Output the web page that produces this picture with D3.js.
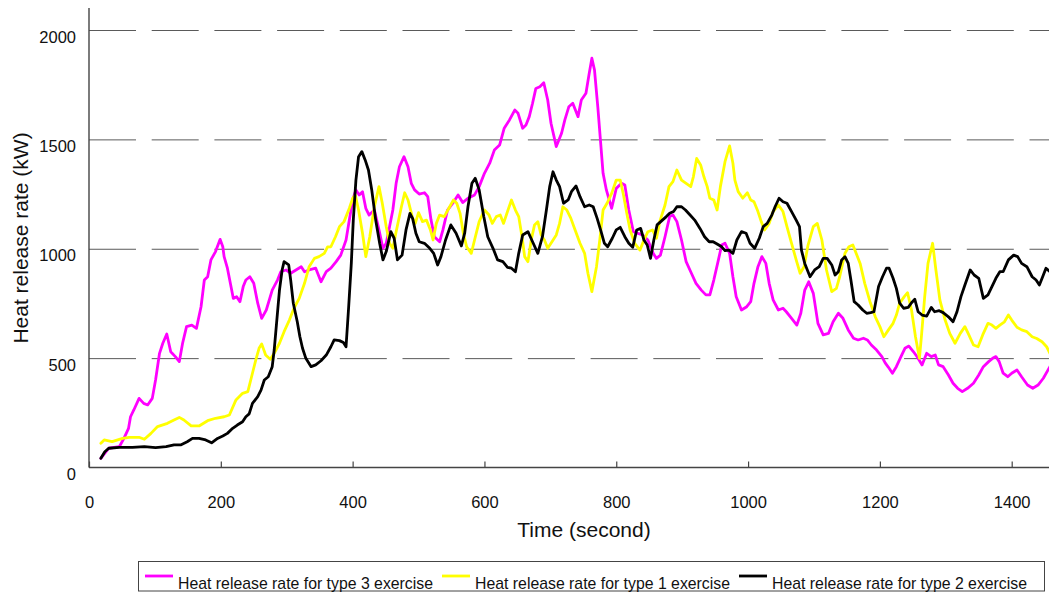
<!DOCTYPE html>
<html>
<head>
<meta charset="utf-8">
<script src="https://cdn.jsdelivr.net/npm/d3@7"></script>
<style>
  html, body { margin: 0; padding: 0; background: #fff; }
  svg { display: block; }
  text { font-family: "Liberation Sans", Arial, sans-serif; fill: #111; }
</style>
</head>
<body>
<svg id="chart" width="1049" height="592"></svg>
<script>
// Heat release rate (kW) against time (s) for three exercise types, as [time, hrr] pairs.
const type3 = [
  [18,42],[30,88],[46,95],[53,133],[60,179],[63,232],[68,263],[76,316],[83,293],[89,286],[96,316],
  [101,400],[107,522],[112,568],[118,610],[124,529],[131,507],[137,484],[142,568],[148,644],[156,651],
  [163,636],[170,735],[175,857],[180,872],[185,949],[192,987],[199,1043],[203,1009],[205,964],[210,911],
  [215,834],[219,773],[224,781],[229,758],[234,827],[238,857],[244,872],[250,842],[256,751],[262,682],
  [269,720],[278,811],[286,857],[291,895],[299,903],[306,888],[314,903],[322,918],[327,895],[334,903],
  [344,911],[352,849],[360,895],[367,911],[375,941],[382,971],[390,1040],[395,1131],[400,1223],[405,1269],
  [410,1246],[415,1261],[420,1185],[425,1154],[433,1177],[440,1086],[446,1002],[451,1025],[456,1101],
  [461,1177],[466,1299],[471,1375],[478,1421],[484,1375],[489,1299],[494,1269],[501,1250],[509,1256],
  [514,1238],[519,1131],[524,1055],[532,1032],[537,1086],[544,1177],[552,1208],[560,1246],[567,1211],
  [575,1231],[585,1246],[592,1284],[600,1345],[608,1391],[615,1451],[623,1474],[630,1551],[638,1589],
  [646,1634],[651,1619],[658,1551],[663,1566],[668,1604],[673,1665],[678,1733],[684,1741],[690,1759],
  [696,1680],[701,1574],[709,1467],[717,1528],[722,1589],[728,1649],[734,1665],[742,1604],[747,1680],
  [754,1711],[759,1802],[763,1871],[767,1817],[772,1649],[776,1497],[780,1345],[785,1269],[793,1185],
  [800,1276],[808,1299],[813,1291],[819,1177],[826,1078],[833,1070],[840,1063],[848,1040],[856,979],
  [861,956],[867,971],[874,1055],[881,1147],[886,1154],[892,1124],[899,1040],[906,941],[914,888],
  [921,842],[929,811],[936,789],[942,789],[948,857],[955,949],[960,1017],[965,1025],[972,979],[977,872],
  [982,781],[990,720],[998,735],[1004,758],[1009,842],[1015,918],[1021,964],[1027,933],[1032,842],
  [1038,766],[1046,720],[1053,728],[1058,712],[1066,682],[1074,651],[1080,705],[1086,811],[1092,849],
  [1099,796],[1106,659],[1114,606],[1122,613],[1129,666],[1137,705],[1144,682],[1152,629],[1160,591],
  [1167,583],[1175,591],[1181,583],[1187,560],[1195,537],[1203,507],[1208,478],[1213,458],[1219,431],
  [1225,461],[1232,507],[1238,545],[1244,555],[1251,529],[1257,504],[1264,469],[1271,522],[1278,507],
  [1284,514],[1289,469],[1296,461],[1304,423],[1311,385],[1318,362],[1325,347],[1333,362],[1342,385],
  [1350,423],[1357,461],[1365,484],[1371,499],[1376,507],[1381,484],[1387,431],[1394,415],[1400,431],
  [1408,446],[1415,415],[1424,377],[1432,362],[1440,377],[1448,408],[1458,461]
];

const type1 = [
  [18,111],[23,126],[35,118],[51,133],[61,138],[76,138],[84,129],[94,156],[104,187],[119,202],[129,217],
  [137,229],[144,217],[155,190],[167,190],[180,214],[192,225],[205,232],[213,240],[223,309],[233,339],
  [241,347],[248,431],[253,491],[258,545],[262,565],[268,514],[275,495],[281,522],[289,568],[296,621],
  [304,674],[311,728],[319,773],[327,842],[334,918],[342,956],[349,964],[357,979],[362,1009],[367,1009],
  [374,1055],[380,1101],[387,1124],[395,1185],[400,1230],[404,1246],[409,1177],[415,1071],[420,964],
  [426,1055],[433,1192],[440,1284],[445,1208],[451,1101],[456,1025],[461,1002],[466,1078],[474,1192],
  [479,1256],[484,1223],[491,1140],[495,1116],[500,1165],[506,1124],[512,1131],[518,1086],[522,1040],
  [527,1116],[532,1154],[539,1147],[546,1185],[553,1223],[558,1208],[563,1162],[568,1071],[573,1009],
  [580,979],[585,1040],[592,1124],[600,1177],[607,1154],[612,1116],[618,1147],[624,1154],[629,1116],
  [635,1170],[641,1223],[647,1177],[652,1147],[657,1055],[661,964],[666,941],[671,1040],[676,1109],
  [681,1124],[686,1063],[691,1040],[696,1002],[701,1025],[709,1063],[714,1116],[719,1192],[725,1177],
  [731,1140],[737,1090],[745,1025],[752,979],[757,888],[763,804],[770,918],[775,1040],[780,1177],
  [786,1208],[793,1253],[800,1314],[806,1314],[811,1246],[816,1162],[821,1086],[828,1025],[836,994],
  [842,1040],[848,1078],[855,1086],[861,1048],[866,1124],[874,1200],[880,1284],[886,1307],[892,1360],
  [899,1314],[906,1299],[913,1284],[917,1329],[922,1413],[928,1383],[933,1329],[938,1284],[942,1231],
  [948,1223],[953,1177],[958,1284],[965,1398],[972,1470],[977,1391],[980,1314],[985,1261],[992,1231],
  [999,1256],[1004,1223],[1009,1215],[1015,1170],[1020,1124],[1025,1086],[1032,1116],[1038,1170],
  [1046,1200],[1053,1170],[1059,1101],[1066,1025],[1073,949],[1079,888],[1085,918],[1091,1017],
  [1099,1101],[1105,1116],[1112,1040],[1119,903],[1127,804],[1134,819],[1139,872],[1147,979],[1153,1009],
  [1159,1017],[1165,971],[1170,933],[1177,842],[1185,758],[1193,689],[1200,644],[1206,598],[1213,629],
  [1220,659],[1225,697],[1230,751],[1237,781],[1242,799],[1248,720],[1254,598],[1260,499],[1263,598],
  [1268,781],[1273,933],[1280,1025],[1285,903],[1291,766],[1299,674],[1306,613],[1314,568],[1322,613],
  [1329,644],[1335,606],[1342,560],[1349,552],[1356,606],[1364,659],[1370,651],[1376,636],[1382,651],
  [1389,666],[1395,697],[1400,674],[1408,641],[1415,629],[1423,621],[1431,598],[1438,590],[1446,575],
  [1453,552],[1458,522]
];

const type2 = [
  [18,42],[24,72],[30,88],[46,92],[66,92],[84,95],[101,91],[117,95],[129,103],[139,103],[149,118],
  [157,133],[167,133],[177,126],[186,113],[195,133],[203,144],[210,156],[218,179],[225,194],[233,209],
  [238,232],[243,245],[248,293],[256,324],[261,354],[266,400],[272,415],[278,461],[281,537],[285,674],
  [289,811],[293,903],[296,941],[303,926],[306,857],[310,751],[316,666],[320,598],[324,545],[329,499],
  [337,461],[344,469],[352,488],[360,514],[367,552],[372,583],[380,580],[386,571],[390,552],[394,735],
  [398,933],[401,1131],[405,1314],[409,1421],[414,1444],[419,1406],[424,1360],[429,1269],[435,1131],
  [441,1025],[446,949],[451,987],[458,1078],[463,1048],[468,949],[475,971],[481,1086],[487,1162],
  [491,1139],[496,1071],[501,1032],[509,1025],[517,1002],[523,979],[529,926],[534,964],[541,1040],
  [549,1109],[557,1071],[565,1013],[570,1071],[575,1192],[581,1299],[586,1322],[592,1269],[599,1147],
  [605,1055],[613,1002],[620,949],[628,941],[635,915],[641,911],[647,895],[652,979],[658,1063],
  [666,1078],[673,1032],[681,979],[688,1055],[694,1177],[699,1284],[704,1352],[709,1314],[714,1284],
  [720,1208],[727,1223],[732,1261],[739,1287],[745,1238],[752,1192],[759,1200],[765,1192],[771,1139],
  [777,1078],[782,1025],[787,1009],[794,1048],[800,1086],[806,1098],[813,1055],[819,1025],[825,1007],
  [831,1086],[837,1093],[842,1040],[847,1017],[852,956],[857,1040],[862,1109],[870,1131],[876,1147],
  [881,1162],[887,1170],[892,1192],[899,1192],[905,1177],[912,1154],[919,1131],[927,1093],[934,1055],
  [941,1032],[947,1032],[953,1022],[960,1009],[965,991],[971,994],[977,979],[983,1040],[990,1078],
  [997,1071],[1003,1025],[1010,1002],[1017,1048],[1023,1101],[1029,1116],[1036,1154],[1041,1192],
  [1047,1231],[1053,1215],[1059,1208],[1066,1170],[1073,1131],[1078,1101],[1081,994],[1086,933],
  [1094,872],[1101,903],[1108,918],[1114,956],[1120,956],[1127,926],[1132,880],[1137,895],[1142,949],
  [1147,964],[1152,933],[1156,857],[1161,758],[1167,743],[1174,720],[1180,705],[1186,708],[1191,712],
  [1198,827],[1204,872],[1210,911],[1214,911],[1220,865],[1225,819],[1230,751],[1236,728],[1243,732],
  [1248,753],[1253,769],[1258,712],[1264,697],[1271,692],[1278,732],[1283,712],[1290,717],[1296,708],
  [1304,689],[1311,666],[1317,712],[1323,781],[1329,834],[1337,903],[1343,880],[1350,865],[1357,773],
  [1364,789],[1370,827],[1376,865],[1382,895],[1387,895],[1395,949],[1403,971],[1409,964],[1415,933],
  [1423,918],[1431,872],[1437,857],[1442,834],[1447,872],[1452,911],[1458,895]
];

const xTicks = [0, 200, 400, 600, 800, 1000, 1200, 1400];
const yTicks = [0, 500, 1000, 1500, 2000];
const gridValues = [500, 1000, 1500, 2000];

const seriesNames = [
  "Heat release rate for type 3 exercise",
  "Heat release rate for type 1 exercise",
  "Heat release rate for type 2 exercise"
];
const seriesColors = ["#ff00ff", "#ffff00", "#000000"];
const seriesData = [type3, type1, type2];

const svg = d3.select("#chart");
const W = 1049;

const x = d3.scaleLinear().domain([0, 1400]).range([89, 1011.7]);
const y = d3.scaleLinear().domain([0, 2000]).range([467.5, 30]);
const plotRight = W;

// Dashed horizontal gridlines
const grid = svg.append("g")
  .attr("transform", `translate(${x(0)},0)`)
  .call(d3.axisLeft(y).tickValues(gridValues).tickSize(-(plotRight - x(0))).tickFormat(""));
grid.select(".domain").remove();
grid.selectAll("line")
  .attr("stroke", "#5a5a5a")
  .attr("stroke-width", 1)
  .attr("stroke-dasharray", "47,15.7");

// Y axis labels
const yAxis = svg.append("g")
  .attr("transform", `translate(${x(0)},0)`)
  .call(d3.axisLeft(y).tickValues(yTicks).tickSize(0).tickPadding(13).tickFormat(d3.format("d")));
yAxis.select(".domain").remove();
yAxis.selectAll("text")
  .attr("y", 12).attr("dy", 0)
  .style("font-size", "16.5px")
  .style("font-family", "'Liberation Sans', Arial, sans-serif")
  .attr("fill", "#111");

// X axis with inward ticks
const xAxis = svg.append("g")
  .attr("transform", `translate(0,${y(0)})`)
  .call(d3.axisBottom(x).tickValues(xTicks).tickSizeInner(-6).tickSizeOuter(0).tickFormat(d3.format("d")));
xAxis.select(".domain").remove();
xAxis.selectAll("line").attr("stroke", "#444").attr("stroke-width", 1.2);
xAxis.selectAll("text")
  .attr("y", 40.5).attr("dy", 0)
  .style("font-size", "16.5px")
  .style("font-family", "'Liberation Sans', Arial, sans-serif")
  .attr("fill", "#111");

// Axis lines
svg.append("line")
  .attr("x1", x(0)).attr("x2", plotRight)
  .attr("y1", y(0)).attr("y2", y(0))
  .attr("stroke", "#444").attr("stroke-width", 1.4);
svg.append("line")
  .attr("x1", x(0)).attr("x2", x(0))
  .attr("y1", 8).attr("y2", y(0))
  .attr("stroke", "#444").attr("stroke-width", 1.4);

// Series lines
svg.append("clipPath").attr("id", "plotClip")
  .append("rect").attr("x", x(0)).attr("y", 0).attr("width", plotRight - x(0)).attr("height", y(0));

const line = d3.line()
  .x(d => x(d[0]))
  .y(d => y(d[1]))
  .curve(d3.curveLinear);

const lines = svg.append("g").attr("clip-path", "url(#plotClip)");
seriesData.forEach((data, i) => {
  lines.append("path")
    .datum(data)
    .attr("d", line)
    .attr("fill", "none")
    .attr("stroke", seriesColors[i])
    .attr("stroke-width", 2.8)
    .attr("stroke-linejoin", "round")
    .attr("stroke-linecap", "round");
});

// Axis titles
svg.append("text")
  .attr("x", 584).attr("y", 537)
  .attr("text-anchor", "middle")
  .style("font-size", "21px")
  .text("Time (second)");

svg.append("text")
  .attr("transform", "translate(28,238) rotate(-90)")
  .attr("text-anchor", "middle")
  .style("font-size", "21px")
  .text("Heat release rate (kW)");

// Legend
const legend = svg.append("g");
legend.append("rect")
  .attr("x", 138.5).attr("y", 561.5)
  .attr("width", 906).attr("height", 29.5)
  .attr("fill", "#fff").attr("stroke", "#444").attr("stroke-width", 1);

seriesNames.forEach((name, i) => {
  const ox = 145 + i * 297;
  legend.append("line")
    .attr("x1", ox).attr("x2", ox + 28)
    .attr("y1", 576).attr("y2", 576)
    .attr("stroke", seriesColors[i]).attr("stroke-width", 2.8);
  legend.append("text")
    .attr("x", ox + 33).attr("y", 588.5)
    .attr("textLength", 255)
    .attr("lengthAdjust", "spacingAndGlyphs")
    .style("font-size", "17px")
    .text(name);
});
</script>
</body>
</html>
